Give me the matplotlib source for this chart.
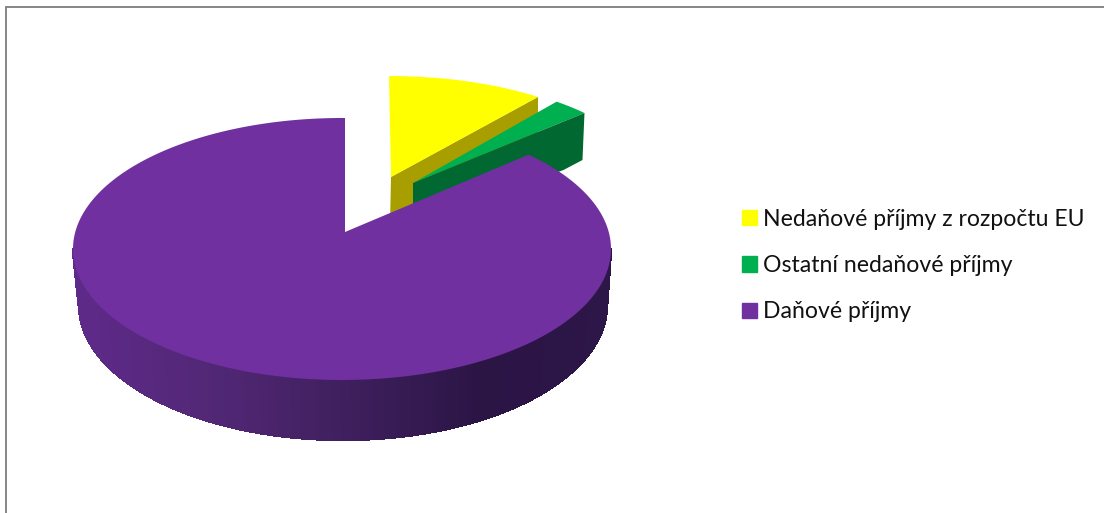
import numpy as np
import matplotlib
matplotlib.use('Agg')
import matplotlib.pyplot as plt
from matplotlib.patches import Patch

#data - shares in percent
labels = ['Nedaňové příjmy z rozpočtu EU', 'Ostatní nedaňové příjmy', 'Daňové příjmy']
shares = [9.8, 2.4, 87.8]
colors = ['#FFFF00', '#00B050', '#7030A0']
dark_colors = ['#A89E00', '#006830', '#2B1545']

plt.rcParams['font.family'] = ['Lato', 'DejaVu Sans']

fig = plt.figure(figsize=(11.04, 5.13), dpi=100)
ax = fig.add_axes([0, 0, 1, 1])
ax.set_xlim(0, 1104)
ax.set_ylim(513, 0)
ax.axis('off')

#angles clockwise from the top of the pie
edges = np.concatenate([[0], np.cumsum(shares)]) * 3.6


def ell(cx, cy, rx, ry, deg):
    a = np.radians(deg)
    return cx + rx * np.sin(a), cy - ry * np.cos(a)


def arc(cx, cy, rx, ry, start, stop, n=200):
    return ell(cx, cy, rx, ry, np.linspace(start, stop, n))


#yellow slice, cut face first
x0, y0 = ell(389, 190, 258, 114, edges[1])
ax.fill([391, x0, x0, 390], [177, y0, y0 + 60, 225], color=dark_colors[0], lw=0)
x, y = arc(389, 190, 258, 114, edges[0], edges[1])
ax.fill(np.r_[391, x], np.r_[177, y], color=colors[0], lw=0)

#green slice
xb, yb = ell(418, 198, 240, 118, edges[2])
x, y = arc(418, 198, 240, 118, edges[1], edges[2])
ax.fill(np.r_[413, x], np.r_[183, y], color=colors[1], lw=0)
ax.fill([413, xb, xb - 2, xb - 21, 413], [183, yb, yb + 47, yb + 57, 225], color=dark_colors[1], lw=0)

#purple slice, side strips from left to right
grad_x = [75, 200, 340, 480, 610]
grad_c = np.array([[0x5F, 0x2A, 0x8A], [0x53, 0x28, 0x78], [0x40, 0x20, 0x5F],
                   [0x2B, 0x15, 0x45], [0x2D, 0x16, 0x48]]) / 255
steps = np.linspace(edges[3] - 90, 90, 181)
for a1, a2 in zip(steps[:-1], steps[1:]):
    t1x, t1y = ell(342, 249, 269, 131, np.array([a1, a2]))
    b1x, b1y = ell(343, 305, 264, 135, np.array([a1, a2]))
    mid = (t1x.mean() + b1x.mean()) / 2
    c = [np.interp(mid, grad_x, grad_c[:, i]) for i in range(3)]
    ax.fill([t1x[0], t1x[1], b1x[1], b1x[0]], [t1y[0], t1y[1], b1y[1], b1y[0]],
            color=c, lw=1.0, antialiased=False)

x, y = arc(342, 249, 269, 131, edges[2], edges[3], 500)
ax.fill(np.r_[345, x, 345], np.r_[232, y, 118], color=colors[2], lw=0)

#chart frame, only top and left show
ax.plot([6, 6, 1104], [513, 7, 7], color='#868686', lw=1.4, solid_joinstyle='miter')

handles = [Patch(color=c) for c in colors]
ax.legend(handles, labels, loc='center left', bbox_to_anchor=(742, 265.5),
          bbox_transform=ax.transData, frameon=False, fontsize=16.6,
          handlelength=0.65, handleheight=0.65, handletextpad=0.26,
          labelspacing=1.105, labelcolor='#111111', borderpad=0, borderaxespad=0)

fig.savefig('out.png', dpi=100)
